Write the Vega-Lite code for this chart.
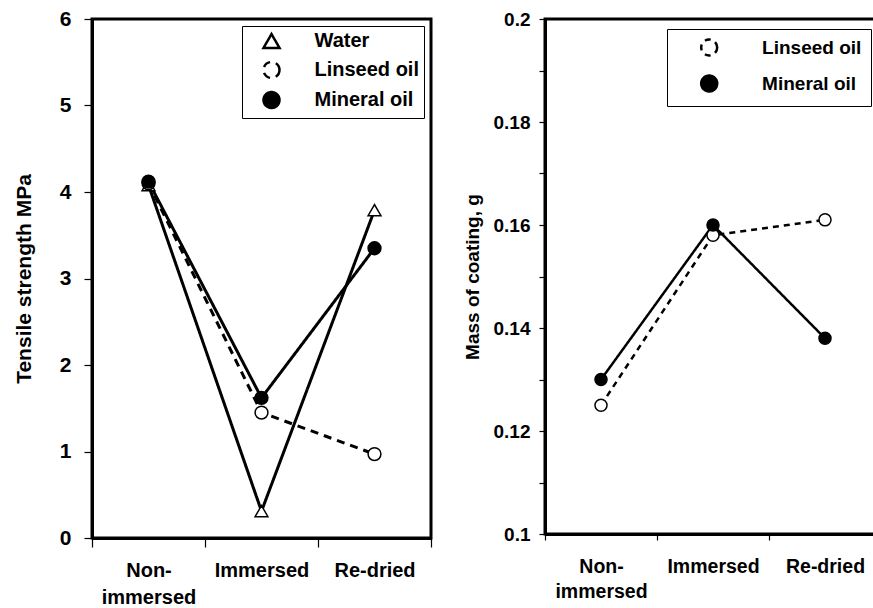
{
  "$schema": "https://vega.github.io/schema/vega-lite/v6.json",
  "background": "white",
  "padding": {"left": 11, "top": 6, "right": 0, "bottom": 0},
  "bounds": "flush",
  "spacing": 114,
  "resolve": {
    "scale": {"shape": "independent", "fill": "independent", "strokeDash": "independent"},
    "legend": {"shape": "independent", "fill": "independent", "strokeDash": "independent"}
  },
  "config": {
    "view": {"stroke": "black", "strokeWidth": 3},
    "axis": {"grid": false, "domainColor": "black", "domainWidth": 3, "tickColor": "black", "tickWidth": 1.2, "labelColor": "black", "titleColor": "black", "labelFont": "Liberation Sans", "titleFont": "Liberation Sans", "labelFontWeight": "bold", "titleFontWeight": "bold"}
  },
  "datasets": {
    "tensile": [
      {"condition": "Non-immersed", "series": "Water", "value": 4.08},
      {"condition": "Immersed", "series": "Water", "value": 0.31},
      {"condition": "Re-dried", "series": "Water", "value": 3.79},
      {"condition": "Non-immersed", "series": "Linseed oil", "value": 4.10},
      {"condition": "Immersed", "series": "Linseed oil", "value": 1.45},
      {"condition": "Re-dried", "series": "Linseed oil", "value": 0.97},
      {"condition": "Non-immersed", "series": "Mineral oil", "value": 4.12},
      {"condition": "Immersed", "series": "Mineral oil", "value": 1.62},
      {"condition": "Re-dried", "series": "Mineral oil", "value": 3.35}
    ],
    "mass": [
      {"condition": "Non-immersed", "series": "Linseed oil", "value": 0.125},
      {"condition": "Immersed", "series": "Linseed oil", "value": 0.158},
      {"condition": "Re-dried", "series": "Linseed oil", "value": 0.161},
      {"condition": "Non-immersed", "series": "Mineral oil", "value": 0.130},
      {"condition": "Immersed", "series": "Mineral oil", "value": 0.160},
      {"condition": "Re-dried", "series": "Mineral oil", "value": 0.138}
    ]
  },
  "hconcat": [
    {
      "width": 339,
      "height": 519,
      "data": {"name": "tensile"},
      "encoding": {
        "x": {"field": "condition", "type": "nominal", "sort": ["Non-immersed", "Immersed", "Re-dried"],
          "scale": {"paddingInner": 0, "paddingOuter": 0},
          "axis": {"title": null, "tickBand": "extent", "labelAngle": 0, "labelFontSize": 20, "tickSize": 9, "labelPadding": 13, "labelBaseline": "top", "labelLineHeight": 27,
            "labelExpr": "datum.value == 'Non-immersed' ? ['Non-', 'immersed'] : datum.value"}},
        "y": {"field": "value", "type": "quantitative", "scale": {"domain": [0, 6]},
          "axis": {"title": "Tensile strength MPa", "values": [0, 1, 2, 3, 4, 5, 6], "labelFontSize": 21, "titleFontSize": 21, "tickSize": 8, "labelPadding": 13, "titlePadding": 25}}
      },
      "layer": [
        {
          "mark": {"type": "line", "color": "black", "strokeWidth": 3},
          "encoding": {
            "strokeDash": {"field": "series", "type": "nominal", "scale": {"domain": ["Water", "Linseed oil", "Mineral oil"], "range": [[1, 0], [8, 6], [1, 0]]},
              "legend": {"title": null, "orient": "top-right", "offset": 7, "padding": 5, "rowPadding": 4, "strokeColor": "black", "fillColor": "white",
                "symbolSize": 256, "symbolStrokeWidth": 2.5, "symbolOffset": 14.5, "labelOffset": 33,
                "labelFont": "Liberation Sans", "labelFontSize": 20, "labelFontWeight": "bold", "labelColor": "black", "labelLimit": 400}}
          }
        },
        {
          "mark": {"type": "point", "filled": true, "stroke": "black", "strokeWidth": 1.5, "size": 165, "opacity": 1},
          "encoding": {
            "fill": {"field": "series", "type": "nominal", "scale": {"domain": ["Water", "Linseed oil", "Mineral oil"], "range": ["white", "white", "black"]},
              "legend": {"title": null, "orient": "top-right", "offset": 7, "padding": 5, "rowPadding": 4, "strokeColor": "black", "fillColor": "white",
                "symbolSize": 256, "symbolStrokeWidth": 2.5, "symbolOffset": 14.5, "labelOffset": 33,
                "labelFont": "Liberation Sans", "labelFontSize": 20, "labelFontWeight": "bold", "labelColor": "black", "labelLimit": 400}},
            "shape": {"field": "series", "type": "nominal", "scale": {"domain": ["Water", "Linseed oil", "Mineral oil"], "range": ["triangle-up", "circle", "circle"]},
              "legend": {"title": null, "orient": "top-right", "offset": 7, "padding": 5, "rowPadding": 4, "strokeColor": "black", "fillColor": "white",
                "symbolSize": 256, "symbolStrokeWidth": 2.5, "symbolOffset": 14.5, "labelOffset": 33,
                "labelFont": "Liberation Sans", "labelFontSize": 20, "labelFontWeight": "bold", "labelColor": "black", "labelLimit": 400}}
          }
        }
      ]
    },
    {
      "width": 336,
      "height": 515,
      "data": {"name": "mass"},
      "encoding": {
        "x": {"field": "condition", "type": "nominal", "sort": ["Non-immersed", "Immersed", "Re-dried"],
          "scale": {"paddingInner": 0, "paddingOuter": 0},
          "axis": {"title": null, "tickBand": "extent", "labelAngle": 0, "labelFontSize": 19.5, "tickSize": 6, "labelPadding": 17, "labelBaseline": "top", "labelLineHeight": 25,
            "labelExpr": "datum.value == 'Non-immersed' ? ['Non-', 'immersed'] : datum.value"}},
        "y": {"field": "value", "type": "quantitative", "scale": {"domain": [0.1, 0.2]},
          "axis": {"title": "Mass of coating, g", "values": [0.1, 0.11, 0.12, 0.13, 0.14, 0.15, 0.16, 0.17, 0.18, 0.19, 0.2], "format": "~g",
            "labelExpr": "round(datum.value * 100) % 2 == 0 ? datum.label : ''",
            "labelFontSize": 19, "titleFontSize": 19, "tickSize": 6, "labelPadding": 9, "titlePadding": 11}}
      },
      "layer": [
        {
          "mark": {"type": "line", "color": "black", "strokeWidth": 2.5},
          "encoding": {
            "strokeDash": {"field": "series", "type": "nominal", "scale": {"domain": ["Linseed oil", "Mineral oil"], "range": [[6, 5], [1, 0]]},
              "legend": {"title": null, "orient": "top-right", "offset": 10, "padding": 9, "rowPadding": 9, "strokeColor": "black", "fillColor": "white",
                "symbolSize": 256, "symbolStrokeWidth": 2.5, "symbolOffset": 23.7, "labelOffset": 43.4,
                "labelFont": "Liberation Sans", "labelFontSize": 19, "labelFontWeight": "bold", "labelColor": "black", "labelLimit": 400}}
          }
        },
        {
          "mark": {"type": "point", "filled": true, "stroke": "black", "strokeWidth": 1.5, "size": 145, "opacity": 1},
          "encoding": {
            "fill": {"field": "series", "type": "nominal", "scale": {"domain": ["Linseed oil", "Mineral oil"], "range": ["white", "black"]},
              "legend": {"title": null, "orient": "top-right", "offset": 10, "padding": 9, "rowPadding": 9, "strokeColor": "black", "fillColor": "white",
                "symbolSize": 256, "symbolStrokeWidth": 2.5, "symbolOffset": 23.7, "labelOffset": 43.4,
                "labelFont": "Liberation Sans", "labelFontSize": 19, "labelFontWeight": "bold", "labelColor": "black", "labelLimit": 400}},
            "shape": {"field": "series", "type": "nominal", "scale": {"domain": ["Linseed oil", "Mineral oil"], "range": ["circle", "circle"]},
              "legend": {"title": null, "orient": "top-right", "offset": 10, "padding": 9, "rowPadding": 9, "strokeColor": "black", "fillColor": "white",
                "symbolSize": 256, "symbolStrokeWidth": 2.5, "symbolOffset": 23.7, "labelOffset": 43.4,
                "labelFont": "Liberation Sans", "labelFontSize": 19, "labelFontWeight": "bold", "labelColor": "black", "labelLimit": 400}}
          }
        }
      ]
    }
  ]
}
